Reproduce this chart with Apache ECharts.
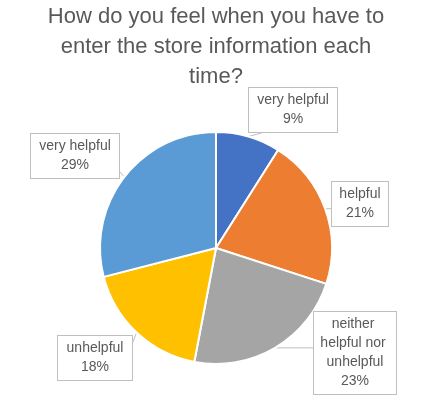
<!DOCTYPE html>
<html>
<head>
<meta charset="utf-8">
<script src="https://cdn.jsdelivr.net/npm/echarts@6/dist/echarts.min.js"></script>
<style>
  html, body { margin: 0; padding: 0; background: #fff; }
  #chart { width: 421px; height: 403px; }
</style>
</head>
<body>
<div id="chart"></div>
<script>
let $ = a => document.querySelector(a)

// data
let categories = ['very helpful', 'helpful', 'neither helpful nor unhelpful', 'unhelpful', 'very helpful']
let values = [9, 21, 23, 18, 29]
let colors = ['#4472C4', '#ED7D31', '#A5A5A5', '#FFC000', '#5B9BD5']

// label box placement (center of each callout) and text widths
let labelPos = [[293, 110], [360, 204], [355, 353], [95, 358], [75, 156]]
let labelWidth = [76, 44, 70, 62, 76]

let clamp = (v, lo, hi) => Math.min(Math.max(v, lo), hi)

{
    let data = categories.map((name, i) => ({
        name: name,
        value: values[i],
        itemStyle: { color: colors[i] },
        label: { width: labelWidth[i] }
    }))

    echarts.init($('#chart')).setOption({
        animation: false,
        title: {
            text: 'How do you feel when you have to\nenter the store information each\ntime?',
            left: 216,
            textAlign: 'center',
            top: 2,
            padding: 0,
            textStyle: {
                fontFamily: 'Liberation Sans',
                fontSize: 22,
                fontWeight: 'normal',
                color: '#595959',
                lineHeight: 30
            }
        },
        series: [{
            type: 'pie',
            center: [216, 248],
            radius: 116,
            startAngle: 90,
            clockwise: true,
            itemStyle: { borderColor: '#fff', borderWidth: 2 },
            label: {
                show: true,
                position: 'outside',
                formatter: '{b}\n{d}%',
                fontFamily: 'Liberation Sans',
                fontSize: 14,
                lineHeight: 19,
                color: '#595959',
                align: 'center',
                overflow: 'break',
                backgroundColor: '#fff',
                borderColor: '#bfbfbf',
                borderWidth: 1,
                padding: [3, 6]
            },
            labelLine: {
                show: true,
                lineStyle: { color: '#bfbfbf', width: 1 }
            },
            labelLayout: function (params) {
                let p = labelPos[params.dataIndex]
                let w = params.labelRect.width, h = params.labelRect.height
                let x0 = p[0] - w / 2, y0 = p[1] - h / 2
                let out = {
                    x: p[0],
                    y: p[1],
                    align: 'center',
                    verticalAlign: 'middle'
                }
                // leader line: from slice edge to the facing side of the box
                let a = params.labelLinePoints ? params.labelLinePoints[0] : null
                if (a) {
                    let ex = a[0] < x0 ? x0 - a[0] : (a[0] > x0 + w ? a[0] - x0 - w : 0)
                    let ey = a[1] < y0 ? y0 - a[1] : (a[1] > y0 + h ? a[1] - y0 - h : 0)
                    let bx, by
                    if (ey >= ex) {
                        by = a[1] < y0 ? y0 : y0 + h
                        bx = clamp(a[0], x0 + 0.15 * w, x0 + 0.85 * w)
                    } else {
                        bx = a[0] < x0 ? x0 : x0 + w
                        by = clamp(a[1], y0 + 0.15 * h, y0 + 0.85 * h)
                    }
                    out.labelLinePoints = [a, [bx, by], [bx, by]]
                }
                return out
            },
            data: data
        }]
    })
}
</script>
</body>
</html>
